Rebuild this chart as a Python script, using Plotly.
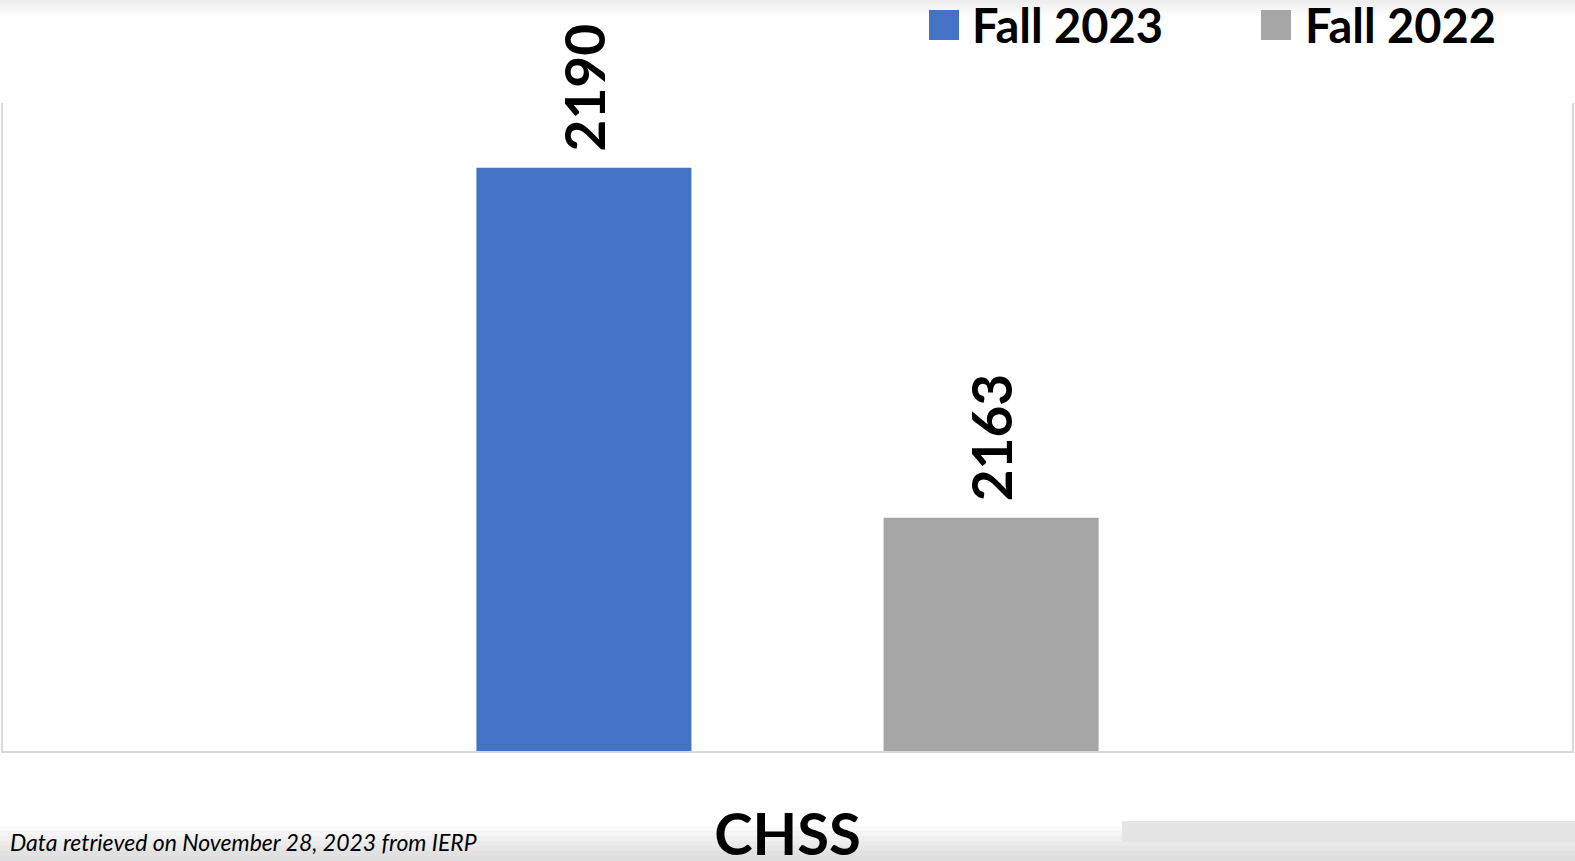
import plotly.graph_objects as go

# ---- data ----
categories = ["CHSS"]
series_names = ["Fall 2023", "Fall 2022"]
fall_2023 = [2190]
fall_2022 = [2163]
series_colors = ["#4472C4", "#A5A5A5"]
footnote = "Data retrieved on November 28, 2023 from IERP"
y_range = [2145, 2195]

# ---- geometry helpers (page pixels -> paper coords) ----
W, H = 1575, 861
ML, MR, MT, MB = 3, 3, 103, 110
PW = W - ML - MR
PH = H - MT - MB


def px(x):
    return (x - ML) / PW


def py(y):
    return (H - MB - y) / PH


FONT = "Lato"

fig = go.Figure()
for name, vals, color in zip(series_names, [fall_2023, fall_2022], series_colors):
    fig.add_trace(go.Bar(
        x=categories, y=vals, name=name,
        marker=dict(color=color, line=dict(width=0)),
        texttemplate="\u00a0%{y}", textposition="outside", textangle=-90,
        textfont=dict(family=FONT, size=55, color="black", weight="bold"),
        cliponaxis=False, constraintext="none", showlegend=False,
    ))

shapes = []
# subtle top gradient band
for i in range(6):
    shapes.append(dict(type="rect", xref="paper", yref="paper", layer="below",
                       x0=px(0), x1=px(W), y0=py(0), y1=py(16 - i * 2.6),
                       fillcolor="rgba(0,0,0,0.010)", line=dict(width=0)))
# subtle bottom gradient band
for i in range(7):
    shapes.append(dict(type="rect", xref="paper", yref="paper", layer="below",
                       x0=px(0), x1=px(W), y0=py(H), y1=py(826 + i * 5),
                       fillcolor="rgba(0,0,0,0.018)", line=dict(width=0)))
# grey strip bottom-right
shapes.append(dict(type="rect", xref="paper", yref="paper",
                   x0=px(1122), x1=px(W), y0=py(842), y1=py(821),
                   fillcolor="#E5E5E5", line=dict(width=0)))

annotations = []
legend_sq = [(929, 959), (1261, 1291)]
legend_tx = [971, 1304]
for name, color, (x0, x1), tx in zip(series_names, series_colors, legend_sq, legend_tx):
    shapes.append(dict(type="rect", xref="paper", yref="paper",
                       x0=px(x0), x1=px(x1), y0=py(40), y1=py(10),
                       fillcolor=color, line=dict(width=0)))
    annotations.append(dict(text=name, xref="paper", yref="paper",
                            x=px(tx), y=py(25), xanchor="left", yanchor="middle",
                            showarrow=False, borderpad=0,
                            font=dict(family=FONT, size=47, color="black", weight="bold")))

annotations.append(dict(text=footnote, xref="paper", yref="paper",
                        x=px(8), y=py(842), xanchor="left", yanchor="middle",
                        showarrow=False,
                        font=dict(family=FONT, size=23, color="black", style="italic")))

fig.update_layout(
    template="none",
    width=W, height=H, autosize=False,
    margin=dict(l=ML, r=MR, t=MT, b=MB, autoexpand=False),
    paper_bgcolor="white", plot_bgcolor="white",
    barmode="group", bargap=0.481, bargroupgap=0.472,
    showlegend=False,
    shapes=shapes, annotations=annotations,
    xaxis=dict(showline=True, linecolor="#D9D9D9", linewidth=2, showgrid=False,
               zeroline=False, ticks="outside", ticklen=32, automargin=False,
               tickcolor="rgba(0,0,0,0)",
               tickfont=dict(family=FONT, size=58, color="black", weight="bold")),
    yaxis=dict(range=y_range, showline=True, mirror=True, linecolor="#D9D9D9",
               linewidth=2, showgrid=False, zeroline=False, showticklabels=False,
               ticks="", automargin=False),
)

fig.write_html("out.html", config={"displayModeBar": False},
               post_script="document.body.style.margin='0';document.body.style.overflow='hidden';")
